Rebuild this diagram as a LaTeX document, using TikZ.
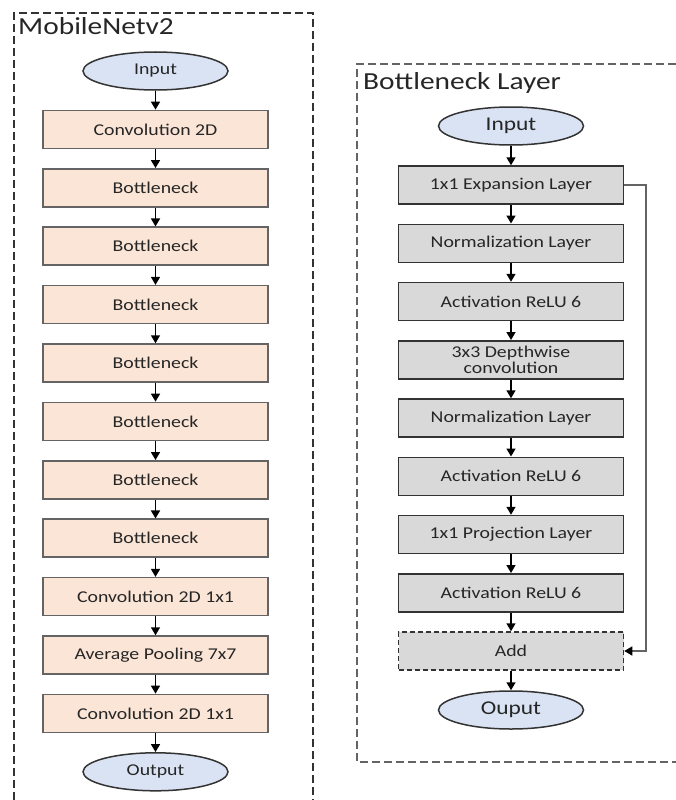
\documentclass[tikz,border=0pt]{standalone}
\usepackage{fontspec}
\setmainfont{Carlito}[FakeStretch=1.2]
\usetikzlibrary{arrows.meta,shapes.geometric}
\definecolor{peach}{HTML}{FBE5D6}
\definecolor{lgray}{HTML}{D9D9D9}
\definecolor{lblue}{HTML}{DAE3F3}
\definecolor{lborder}{HTML}{646464}
\definecolor{rborder}{HTML}{333333}
\definecolor{txt}{HTML}{262626}
\begin{document}
\begin{tikzpicture}[x=1pt,y=-1pt,
  lbox/.style={draw=lborder, fill=peach, line width=1.5pt, minimum width=225pt,
    minimum height=38pt, inner sep=0pt, text=txt, font=\fontsize{16.5}{18}\selectfont},
  rbox/.style={lbox, draw=rborder, fill=lgray},
  addbox/.style={rbox, dash pattern=on 5pt off 3pt},
  oval/.style={ellipse, draw=rborder, fill=lblue, line width=1.5pt, minimum width=145pt,
    minimum height=38pt, inner sep=0pt, text=txt, font=\fontsize{16.5}{18}\selectfont},
  rv/.style={oval, font=\fontsize{19.5}{21}\selectfont},
  flow/.style={-{Triangle[length=8pt,width=9pt]}, line width=1.6pt, black},
  skip/.style={-{Triangle[length=8pt,width=9pt,black]}, line width=1.4pt, draw=lborder},
  frame/.style={line width=1.8pt, dash pattern=on 8pt off 4pt},
  ttl/.style={anchor=base west, inner sep=0pt, text=txt, font=\fontsize{24.5}{26}\selectfont}]
\useasboundingbox (0,0) rectangle (676,800);

% frames
\draw[frame, draw=rborder] (14,800) -- (14,13) -- (313,13) -- (313,800);
\draw[frame, draw=lborder] (676,64) -- (357,64) -- (357,762) -- (676,762);
\node[ttl] (t1) at (18,35) {MobileNetv2};
\node[ttl] (t2) at (363,89) {Bottleneck Layer};

% MobileNetv2 column
\node[oval] (l0) at (155.5,71) {Input};
\node[lbox] (l1) at (155.5,129.4) {Convolution 2D};
\node[lbox] (l2) at (155.5,187.8) {Bottleneck};
\node[lbox] (l3) at (155.5,246.2) {Bottleneck};
\node[lbox] (l4) at (155.5,304.6) {Bottleneck};
\node[lbox] (l5) at (155.5,363.0) {Bottleneck};
\node[lbox] (l6) at (155.5,421.4) {Bottleneck};
\node[lbox] (l7) at (155.5,479.8) {Bottleneck};
\node[lbox] (l8) at (155.5,538.2) {Bottleneck};
\node[lbox] (l9) at (155.5,596.6) {Convolution 2D 1x1};
\node[lbox] (l10) at (155.5,655.0) {Average Pooling 7x7};
\node[lbox] (l11) at (155.5,713.4) {Convolution 2D 1x1};
\node[oval] (l12) at (155.5,771.8) {Output};
\foreach \a/\b in {l0/l1,l1/l2,l2/l3,l3/l4,l4/l5,l5/l6,l6/l7,l7/l8,l8/l9,l9/l10,l10/l11,l11/l12}
  \draw[flow] (\a) -- (\b);

% Bottleneck layer column
\node[rv] (r0) at (511,126) {Input};
\node[rbox] (r1) at (511,185) {1x1 Expansion Layer};
\node[rbox] (r2) at (511,243.25) {Normalization Layer};
\node[rbox] (r3) at (511,301.5) {Activation ReLU 6};
\node[rbox, align=center, font=\fontsize{16.5}{16}\selectfont] (r4) at (511,359.75) {3x3 Depthwise\\convolution};
\node[rbox] (r5) at (511,418) {Normalization Layer};
\node[rbox] (r6) at (511,476.25) {Activation ReLU 6};
\node[rbox] (r7) at (511,534.5) {1x1 Projection Layer};
\node[rbox] (r8) at (511,592.75) {Activation ReLU 6};
\node[addbox] (r9) at (511,651) {Add};
\node[rv] (r10) at (511,710) {Ouput};
\foreach \a/\b in {r0/r1,r1/r2,r2/r3,r3/r4,r4/r5,r5/r6,r6/r7,r7/r8,r8/r9,r9/r10}
  \draw[flow] (\a) -- (\b);

% residual connection
\coordinate (sk) at (646,185);
\draw[skip] (r1.east) -- (sk) |- (r9.east);
\end{tikzpicture}
\end{document}
